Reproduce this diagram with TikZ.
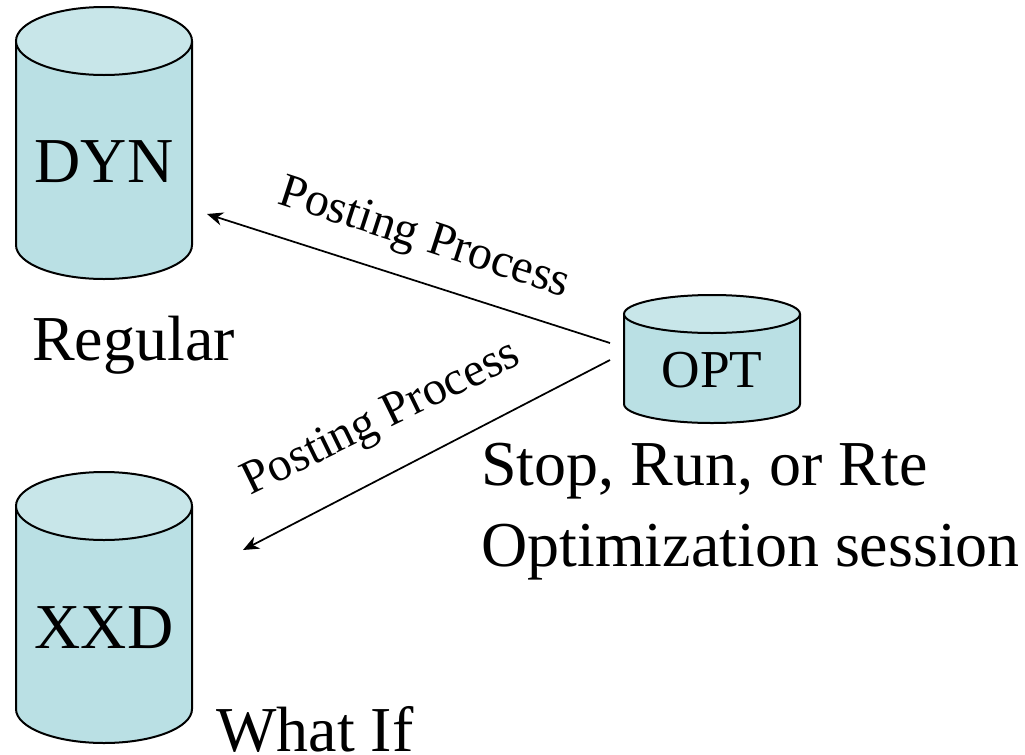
\documentclass[tikz,border=0pt]{standalone}
\usepackage{fontspec}
\setmainfont{Liberation Serif}
\usetikzlibrary{arrows.meta,positioning,calc}
\definecolor{colorBody}{RGB}{186,224,228}
\definecolor{colorTop}{RGB}{200,230,233}
% drum: name, centre x, top y, bottom y, end radius
\newcommand{\drum}[5]{
    \coordinate (#1Top) at (#2,#3-#5);
    \coordinate (#1Low) at (#2,#4+#5);
    \fill[colorBody] ($(#1Top)+(-88,0)$) -- ($(#1Low)+(-88,0)$)
        arc[x radius=88,y radius=#5,start angle=180,end angle=360] -- ($(#1Top)+(88,0)$) -- cycle;
    \draw[drumline] ($(#1Top)+(-88,0)$) -- ($(#1Low)+(-88,0)$)
        arc[x radius=88,y radius=#5,start angle=180,end angle=360] -- ($(#1Top)+(88,0)$);
    \draw[drumline,fill=colorTop] (#1Top) ellipse[x radius=88,y radius=#5];
}
\begin{document}
\begin{tikzpicture}[
            x=0.75pt,y=0.75pt,
            drumline/.style={draw=black,line width=1.5pt},
            post/.style={-{Stealth[length=12pt,width=10pt]},line width=1.3pt},
            caption/.style={font=\fontsize{48}{60.5}\selectfont,inner sep=0pt,anchor=base west},
            storelabel/.style={font=\fontsize{48}{48}\selectfont,inner sep=0pt},
            postlabel/.style={font=\fontsize{36}{36}\selectfont,inner sep=0pt}
        ]

        % Bounding box
        \useasboundingbox (0,0) rectangle (1025,-754);

        % Define the three stores
        \drum{dyn}{104}{-7}{-279}{34}
        \drum{xxd}{104}{-472}{-743}{34}
        \drum{opt}{712}{-295}{-423}{19}

        % Store names
        \node[storelabel] (dynText) at (104,-162) {DYN};
        \node[storelabel] (xxdText) at (104,-628) {XXD};
        \node[storelabel,font=\fontsize{40}{40}\selectfont] (optText) at (712,-370) {OPT};

        % Free ends of the connectors
        \coordinate (dynEnd) at (207,-214);
        \coordinate (xxdEnd) at (243,-550);
        \coordinate (optUp) at (610,-343);
        \coordinate (optDown) at (610,-360);

        % Draw the two connectors
        \draw[post] (optUp) -- (dynEnd);
        \draw[post] (optDown) -- (xxdEnd);

        % Add labels
        \node[postlabel,rotate=-18] (postUp) at (424,-240) {Posting Process};
        \node[postlabel,rotate=26] (postDown) at (382,-420) {Posting Process};
        \node[caption] (regular) at (32,-360) {Regular};
        \node[caption] (whatif) at (216,-751) {What If};
        \node[caption,align=left,anchor=north west] (session) at (481,-443) {Stop, Run, or Rte\\Optimization session};

        \end{tikzpicture}
\end{document}
